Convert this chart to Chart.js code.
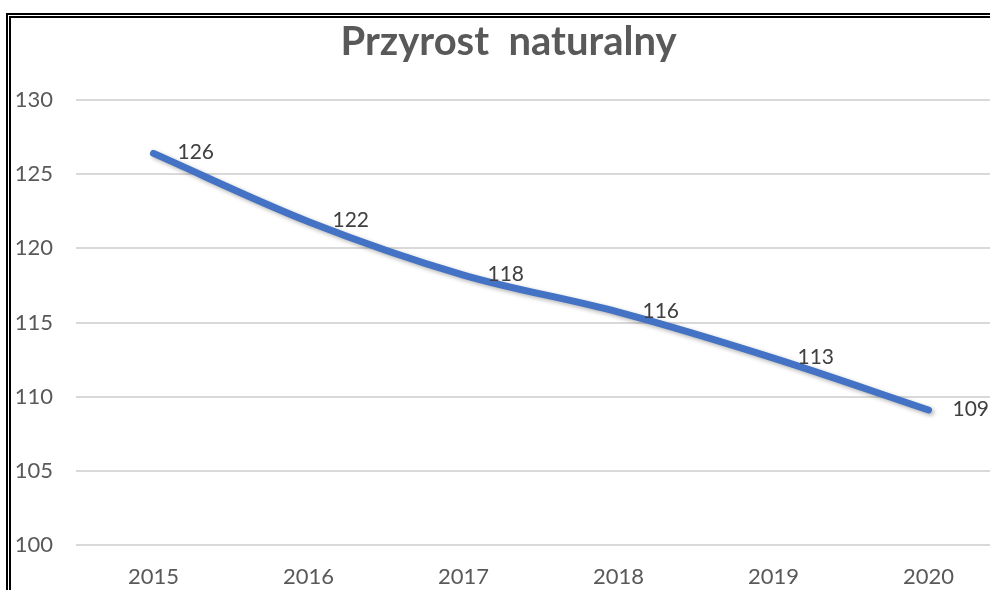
<!DOCTYPE html>
<html>
<head>
<meta charset="utf-8">
<script src="https://cdn.jsdelivr.net/npm/chart.js@4"></script>
<style>
  html, body { margin: 0; padding: 0; background: #fff; overflow: hidden; }
  #box {
    position: absolute; left: 6px; top: 13px;
    width: 1000px; height: 576px;
    border-left: 5px double #000; border-top: 5px double #000;
  }
</style>
</head>
<body>
<div id="box"><canvas id="myChart" width="1000" height="576"></canvas></div>
<script>
const years = ['2015', '2016', '2017', '2018', '2019', '2020'];
const values = [126.4, 121.8, 118.2, 115.7, 112.6, 109.1];
const shownLabels = ['126', '122', '118', '116', '113', '109'];
const yTicks = [100, 105, 110, 115, 120, 125, 130];

const font = "Lato, 'Open Sans', sans-serif";

const shadowPlugin = {
    id: 'shadow',
    beforeDatasetDraw(chart) {
        const ctx = chart.ctx;
        ctx.save();
        ctx.shadowColor = 'rgba(0,0,0,0.3)';
        ctx.shadowBlur = 4;
        ctx.shadowOffsetX = 2;
        ctx.shadowOffsetY = 2;
    },
    afterDatasetDraw(chart) {
        chart.ctx.restore();
    }
};

const labelPlugin = {
    id: 'valueLabels',
    afterDatasetsDraw(chart) {
        const ctx = chart.ctx;
        const meta = chart.getDatasetMeta(0);
        ctx.save();
        ctx.font = '21px ' + font;
        ctx.fillStyle = '#404040';
        ctx.textAlign = 'left';
        ctx.textBaseline = 'middle';
        meta.data.forEach((pt, i) => {
            ctx.fillText(shownLabels[i], pt.x + 24, pt.y - 1);
        });
        ctx.restore();
    }
};

new Chart(document.getElementById('myChart'), {
    type: 'line',
    data: {
        labels: years,
        datasets: [{
            data: values,
            borderColor: '#4472C4',
            borderWidth: 7,
            borderCapStyle: 'round',
            pointRadius: 0,
            cubicInterpolationMode: 'monotone',
            fill: false
        }]
    },
    options: {
        responsive: false,
        animation: false,
        layout: { padding: { left: 0, right: 5, top: 0, bottom: 0 } },
        plugins: {
            legend: { display: false },
            tooltip: { enabled: false },
            title: {
                display: true,
                text: 'Przyrost  naturalny',
                color: '#595959',
                font: { family: font, size: 40, weight: 'bold' },
                padding: { top: 0, bottom: 34 }
            }
        },
        scales: {
            x: {
                offset: true,
                grid: { display: false, drawTicks: false },
                border: { display: false },
                ticks: { color: '#595959', font: { family: font, size: 22 }, padding: 19 },
                afterFit(scale) { scale.height = 49; }
            },
            y: {
                min: 100,
                max: 130,
                afterBuildTicks(scale) { scale.ticks = yTicks.map(v => ({ value: v })); },
                grid: { color: '#d9d9d9', lineWidth: 2, drawTicks: false },
                border: { display: false },
                ticks: { color: '#595959', font: { family: font, size: 22 }, padding: 23 },
                afterFit(scale) { scale.width = 65; }
            }
        }
    },
    plugins: [shadowPlugin, labelPlugin]
});
</script>
</body>
</html>
